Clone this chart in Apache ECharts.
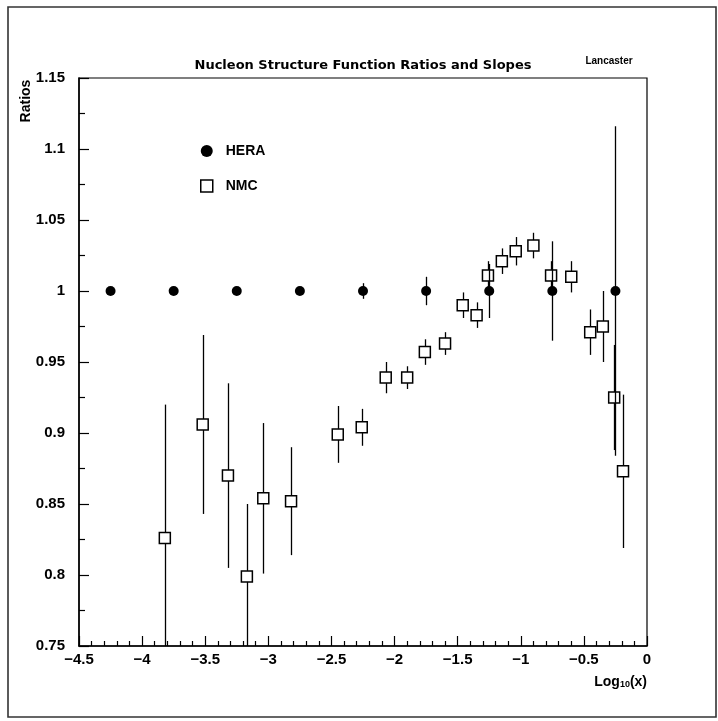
<!DOCTYPE html>
<html>
<head>
<meta charset="utf-8">
<script src="https://cdn.jsdelivr.net/npm/echarts@6/dist/echarts.min.js"></script>
<style>
html,body{margin:0;padding:0;background:#fff;}
#chart{width:718px;height:721px;}
</style>
</head>
<body>
<div id="chart"></div>
<script>
// ---- data ----
var heraX = [-4.25, -3.75, -3.25, -2.75, -2.25, -1.75, -1.25, -0.75, -0.25];
var heraY = [1, 1, 1, 1, 1, 1, 1, 1, 1];
var heraErr = [0, 0, 0, 0.001, 0.0055, 0.01, 0.019, 0.035, 0.116];

var nmcX = [-3.82, -3.52, -3.32, -3.17, -3.04, -2.82, -2.45, -2.26, -2.07, -1.90, -1.76, -1.60,
            -1.46, -1.35, -1.26, -1.15, -1.04, -0.90, -0.76, -0.60, -0.45, -0.35, -0.26, -0.19];
var nmcY = [0.826, 0.906, 0.870, 0.799, 0.854, 0.852, 0.899, 0.904, 0.939, 0.939, 0.957, 0.963,
            0.990, 0.983, 1.011, 1.021, 1.028, 1.032, 1.011, 1.010, 0.971, 0.975, 0.925, 0.873];
var nmcErr = [0.094, 0.063, 0.065, 0.051, 0.053, 0.038, 0.020, 0.013, 0.011, 0.008, 0.009, 0.008,
              0.009, 0.009, 0.010, 0.009, 0.010, 0.009, 0.010, 0.011, 0.016, 0.025, 0.037, 0.054];

var xTicks = [-4.5, -4, -3.5, -3, -2.5, -2, -1.5, -1, -0.5, 0];
var yTicks = [0.75, 0.8, 0.85, 0.9, 0.95, 1, 1.05, 1.1, 1.15];

var titleText = 'Nucleon Structure Function Ratios and Slopes';
var seriesNames = ['HERA', 'NMC'];

// ---- build ----
function pts(xs, ys) { return xs.map(function (x, i) { return [x, ys[i]]; }); }
function bars(xs, ys, es) {
  return xs.map(function (x, i) { return [x, ys[i] - es[i], ys[i] + es[i]]; })
           .filter(function (d) { return d[2] - d[1] > 0; });
}
function errRender(params, api) {
  var cs = params.coordSys;
  var p1 = api.coord([api.value(0), api.value(1)]);
  var p2 = api.coord([api.value(0), api.value(2)]);
  var yTop = Math.max(Math.min(p1[1], p2[1]), cs.y);
  var yBot = Math.min(Math.max(p1[1], p2[1]), cs.y + cs.height);
  return {
    type: 'line',
    shape: { x1: Math.round(p1[0]) + 0.5, y1: yTop, x2: Math.round(p1[0]) + 0.5, y2: yBot },
    style: { stroke: '#000', lineWidth: 1.3 }
  };
}

var FONT = 'Liberation Sans';
var chart = echarts.init(document.getElementById('chart'), null, { renderer: 'canvas' });
chart.setOption({
  animation: false,
  backgroundColor: '#fff',
  grid: { left: 79, right: 71, top: 78, bottom: 75, show: true, borderColor: '#000', borderWidth: 1.2 },
  xAxis: {
    type: 'value', min: xTicks[0], max: xTicks[xTicks.length - 1], interval: 0.5,
    axisLine: { show: true, onZero: false, lineStyle: { color: '#000', width: 1.5 } },
    axisTick: { show: true, inside: true, length: 10, lineStyle: { color: '#000', width: 1.2 } },
    minorTick: { show: true, splitNumber: 5, length: 5, lineStyle: { color: '#000', width: 1.2 } },
    splitLine: { show: false },
    axisLabel: {
      margin: 6, color: '#000', fontFamily: FONT, fontSize: 15, fontWeight: 'bold',
      formatter: function (v) { return String(v).replace('-', '\u2212'); }
    }
  },
  yAxis: {
    type: 'value', min: yTicks[0], max: yTicks[yTicks.length - 1], interval: 0.05,
    axisLine: { show: true, onZero: false, lineStyle: { color: '#000', width: 1.5 } },
    axisTick: { show: true, inside: true, length: 10, lineStyle: { color: '#000', width: 1.2 } },
    minorTick: { show: true, splitNumber: 2, length: 6, lineStyle: { color: '#000', width: 1.2 } },
    splitLine: { show: false },
    axisLabel: {
      margin: 14, color: '#000', fontFamily: FONT, fontSize: 15, fontWeight: 'bold',
      formatter: function (v) { return String(+v.toFixed(2)); }
    }
  },
  legend: {
    orient: 'vertical', left: 195, top: 139, itemGap: 21, itemWidth: 12, itemHeight: 12,
    textStyle: { fontFamily: FONT, fontSize: 14, fontWeight: 'bold', color: '#000', padding: [0, 0, 0, 8] },
    data: [
      { name: seriesNames[0], icon: 'circle' },
      { name: seriesNames[1], icon: 'rect', itemStyle: { color: '#fff', borderColor: '#000', borderWidth: 1.5 } }
    ]
  },
  graphic: [
    { type: 'rect', shape: { x: 8, y: 7, width: 708, height: 710 },
      style: { fill: 'none', stroke: '#333', lineWidth: 1.6 }, silent: true },
    { type: 'text', x: 363, y: 66,
      style: { text: titleText, fontFamily: 'DejaVu Sans', fontSize: 13, fontWeight: 'bold', fill: '#000',
               textAlign: 'center', textVerticalAlign: 'middle' } },
    { type: 'text', x: 609, y: 61,
      style: { text: 'Lancaster', fontFamily: FONT, fontSize: 10, fontWeight: 'bold', fill: '#000',
               textAlign: 'center', textVerticalAlign: 'middle' } },
    { type: 'text', x: 26, y: 101, rotation: Math.PI / 2,
      style: { text: 'Ratios', fontFamily: FONT, fontSize: 14, fontWeight: 'bold', fill: '#000',
               textAlign: 'center', textVerticalAlign: 'middle' } },
    { type: 'text', x: 647, y: 682,
      style: {
        text: '{a|Log}{b|10}{a|(x)}', textAlign: 'right', textVerticalAlign: 'middle',
        rich: {
          a: { fontFamily: FONT, fontSize: 14, fontWeight: 'bold', fill: '#000', color: '#000' },
          b: { fontFamily: FONT, fontSize: 9, fontWeight: 'bold', fill: '#000', color: '#000', padding: [6, 0, 0, 0] }
        }
      } }
  ],
  series: [
    { type: 'custom', name: 'nmcErr', renderItem: errRender, data: bars(nmcX, nmcY, nmcErr), z: 2, clip: true, silent: true },
    { type: 'scatter', name: seriesNames[1], data: pts(nmcX, nmcY), symbol: 'rect', symbolSize: 11, z: 3,
      itemStyle: { color: '#fff', borderColor: '#000', borderWidth: 1.5, opacity: 1 } },
    { type: 'custom', name: 'heraErr', renderItem: errRender, data: bars(heraX, heraY, heraErr), z: 4, clip: true, silent: true },
    { type: 'scatter', name: seriesNames[0], data: pts(heraX, heraY), symbol: 'circle', symbolSize: 10, z: 5,
      itemStyle: { color: '#000', opacity: 1 } }
  ]
});
</script>
</body>
</html>
